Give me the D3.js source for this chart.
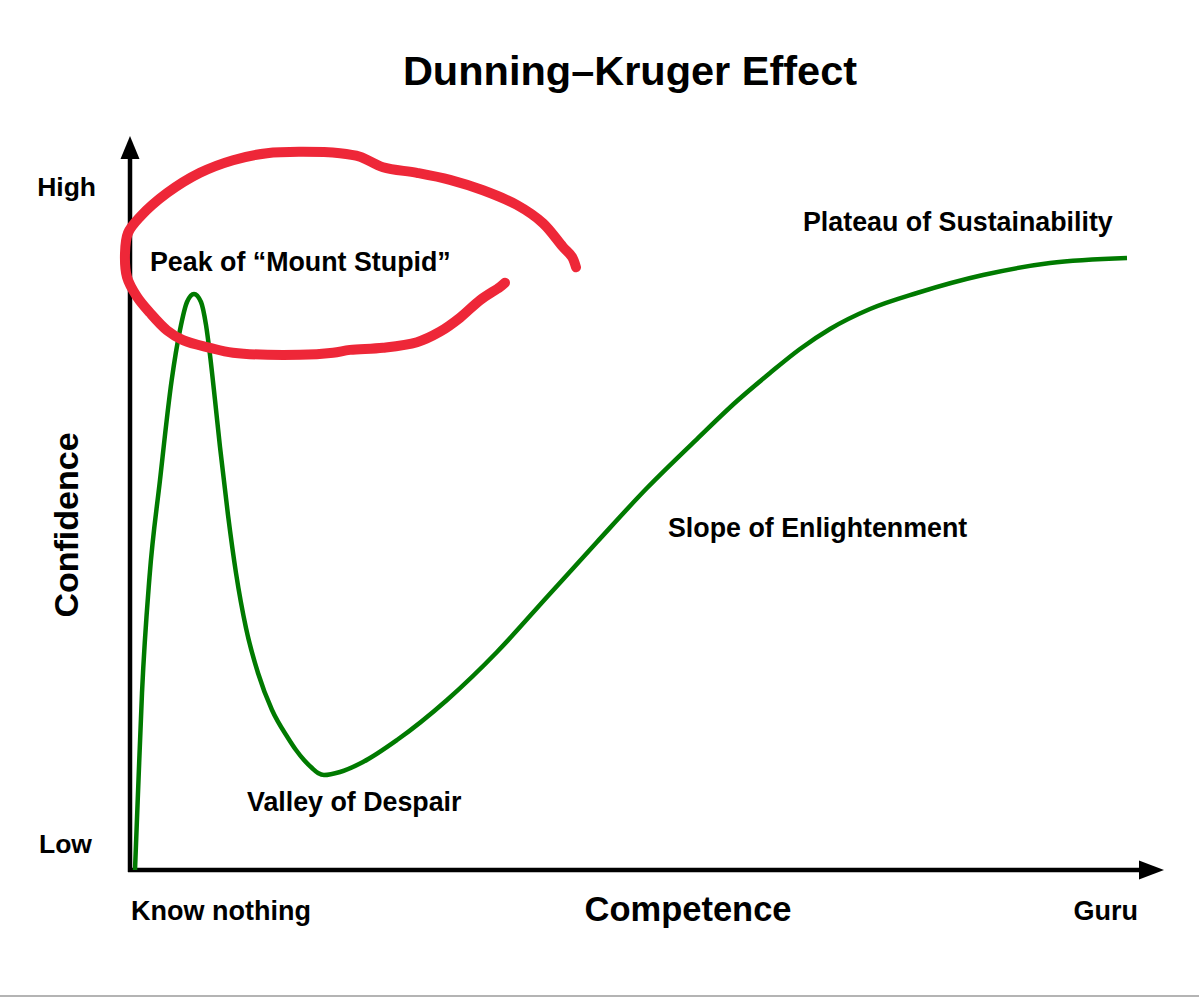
<!DOCTYPE html>
<html>
<head>
<meta charset="utf-8">
<script src="https://cdn.jsdelivr.net/npm/d3@7"></script>
<style>
  html, body { margin: 0; padding: 0; background: #fff; }
  svg { display: block; }
  text { font-family: "Liberation Sans", Arial, sans-serif; font-weight: bold; fill: #000; }
</style>
</head>
<body>
<svg id="chart" width="1199" height="998"></svg>
<script>
// ---- data ----
const title = "Dunning–Kruger Effect";
const xAxisTitle = "Competence";
const yAxisTitle = "Confidence";
const xTickLabels = ["Know nothing", "Guru"];
const yTickLabels = ["Low", "High"];

// competence (0-100), confidence (0-100)
const competence = [0.5, 0.85, 1.2, 1.95, 3.0, 4.17, 5.0, 5.7, 6.4, 7.1, 7.6, 8.0, 8.5, 9.0, 9.8, 10.6, 11.6, 12.8, 14.2, 15.8, 16.6, 17.4, 18.2, 18.8, 19.4, 21.0, 23.3, 26.7, 31.7, 36.7, 41.7, 46.7, 51.7, 56.7, 60.7, 64.0, 67.0, 70.0, 74.0, 78.7, 85.3, 92.0, 99.7];
const confidence = [0.0, 12.86, 25.29, 41.86, 55.71, 70.0, 77.14, 81.14, 82.29, 81.14, 77.86, 73.57, 67.14, 60.43, 50.71, 42.43, 34.57, 28.14, 22.86, 18.86, 17.14, 15.71, 14.57, 13.86, 13.57, 14.0, 15.43, 18.57, 24.29, 31.14, 39.0, 46.86, 54.57, 61.57, 67.0, 71.0, 74.43, 77.29, 80.14, 82.43, 85.0, 86.71, 87.43];

const stageLabels = ["Peak of “Mount Stupid”", "Valley of Despair", "Slope of Enlightenment", "Plateau of Sustainability"];

// hand-drawn red annotation ring (competence, confidence)
const ringX = [44.6, 44.2, 43.3, 41.3, 38.7, 35.3, 32.0, 28.7, 25.3, 23.0, 21.0, 17.0, 13.7, 10.3, 7.0, 3.7, 1.0, -0.2, -0.5, -0.3, 0.7, 2.0, 3.7, 5.3, 8.0, 10.3, 17.0, 20.3, 22.0, 25.3, 28.7, 31.0, 33.0, 35.0, 37.0, 37.5];
const ringY = [86.1, 87.6, 89.0, 92.4, 95.0, 97.1, 98.6, 99.6, 100.4, 101.9, 102.4, 102.6, 102.4, 101.4, 99.6, 96.7, 93.3, 91.0, 88.1, 84.7, 81.9, 79.6, 77.1, 75.7, 74.6, 73.9, 73.6, 73.9, 74.3, 74.6, 75.4, 76.9, 78.9, 81.4, 83.3, 83.9];

// ---- layout ----
const svg = d3.select("#chart");
const W = 1199, H = 998;
const x = d3.scaleLinear().domain([0, 100]).range([130, 1130]);
const y = d3.scaleLinear().domain([0, 100]).range([870, 170]);

svg.append("rect").attr("width", W).attr("height", H).attr("fill", "#fff");
svg.append("rect").attr("x", 0).attr("y", 995).attr("width", W).attr("height", 2).attr("fill", "#b4b4b4");

// title
svg.append("text").attr("x", 630).attr("y", 85).attr("text-anchor", "middle")
  .attr("font-size", 41.5).text(title);

// axes with arrowheads
const axisColor = "#000";
const x0 = x(0), y0 = y(0);
svg.append("line").attr("x1", x0).attr("y1", y0 + 2).attr("x2", x0).attr("y2", 155)
  .attr("stroke", axisColor).attr("stroke-width", 4.5);
svg.append("path").attr("d", `M${x0},136 L${x0 - 9.5},159 L${x0 + 9.5},159 Z`).attr("fill", axisColor);
svg.append("line").attr("x1", x0 - 2).attr("y1", y0).attr("x2", 1143).attr("y2", y0)
  .attr("stroke", axisColor).attr("stroke-width", 4.5);
svg.append("path").attr("d", `M1164,${y0} L1139,${y0 - 9.5} L1139,${y0 + 9.5} Z`).attr("fill", axisColor);

// axis titles
svg.append("text").attr("x", 688).attr("y", 921).attr("text-anchor", "middle")
  .attr("font-size", 34.5).text(xAxisTitle);
svg.append("text").attr("transform", "translate(78,525) rotate(-90)").attr("text-anchor", "middle")
  .attr("font-size", 34).text(yAxisTitle);

// tick labels
svg.append("text").attr("x", 131).attr("y", 920).attr("font-size", 27).text(xTickLabels[0]);
svg.append("text").attr("x", 1138).attr("y", 920).attr("text-anchor", "end").attr("font-size", 27).text(xTickLabels[1]);
svg.append("text").attr("x", 92).attr("y", 853).attr("text-anchor", "end").attr("font-size", 26.5).text(yTickLabels[0]);
svg.append("text").attr("x", 96).attr("y", 196).attr("text-anchor", "end").attr("font-size", 26.5).text(yTickLabels[1]);

// curve
const pts = competence.map((c, i) => [c, confidence[i]]);
const line = d3.line().x(d => x(d[0])).y(d => y(d[1])).curve(d3.curveMonotoneX);
svg.append("path").datum(pts).attr("d", line).attr("fill", "none")
  .attr("stroke", "#007a00").attr("stroke-width", 4.5).attr("stroke-linejoin", "round");

// stage labels
const stagePos = [[150, 271], [247, 811], [668, 537], [803, 231]];
stageLabels.forEach((t, i) => {
  svg.append("text").attr("x", stagePos[i][0]).attr("y", stagePos[i][1]).attr("font-size", 26.8).text(t);
});

// red ring
const ring = ringX.map((v, i) => [v, ringY[i]]);
const ringLine = d3.line().x(d => x(d[0])).y(d => y(d[1])).curve(d3.curveCatmullRom.alpha(0.5));
svg.append("path").datum(ring).attr("d", ringLine).attr("fill", "none")
  .attr("stroke", "#ee2738").attr("stroke-width", 10).attr("stroke-linecap", "round").attr("stroke-linejoin", "round");
</script>
</body>
</html>
